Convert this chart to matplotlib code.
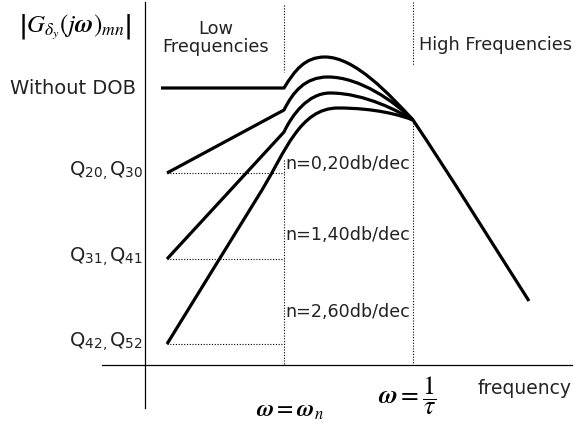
import matplotlib
matplotlib.use("Agg")
import matplotlib.pyplot as plt
from matplotlib.path import Path
from matplotlib.patches import PathPatch

plt.rcParams["mathtext.fontset"] = "stix"

# schematic curves, in picture units (x right, y down)
# each: straight low-frequency part, then bezier pieces (3 points each)
without_dob = [(161, 88), (284, 88)]
without_dob_bez = [(295, 70), (305, 57), (325, 57),
                   (355, 57), (390, 95), (413, 120),
                   (450, 175), (490, 240), (529, 301)]
q20_line = [(167, 173), (284, 110)]
q20_bez = [(293, 92), (305, 77), (328, 77),
           (360, 77), (395, 102), (413, 120)]
q31_line = [(167, 259), (284, 132)]
q31_bez = [(292, 115), (308, 93), (330, 93),
           (365, 93), (400, 112), (413, 120)]
q42_line = [(167, 344), (262, 190)]
q42_bez = [(285, 152), (300, 108), (338, 108),
           (375, 108), (400, 115), (413, 120)]

curves = [(without_dob, without_dob_bez), (q20_line, q20_bez),
          (q31_line, q31_bez), (q42_line, q42_bez)]

level_labels = [r"Q$_\mathregular{20,}$Q$_\mathregular{30}$",
                r"Q$_\mathregular{31,}$Q$_\mathregular{41}$",
                r"Q$_\mathregular{42,}$Q$_\mathregular{52}$"]
level_y = [173, 259, 344]
slope_labels = ["n=0,20db/dec", "n=1,40db/dec", "n=2,60db/dec"]
slope_y = [164, 235, 312]

w_n = 284
w_tau = 413

fig = plt.figure(figsize=(5.75, 4.32), dpi=100)
ax = fig.add_axes([0, 0, 1, 1])
ax.set_xlim(0, 575)
ax.set_ylim(432, 0)
ax.axis("off")

txt = dict(color="#222222", family="DejaVu Sans")

# axes
ax.plot([145, 145], [2, 408], color="black", lw=0.9)
ax.plot([102, 572], [365, 365], color="black", lw=0.9)

# dotted guides
dot = dict(color="black", lw=0.8, ls=(0, (1, 1.5)))
ax.plot([w_n, w_n], [5, 72], **dot)
ax.plot([w_n, w_n], [160, 365], **dot)
ax.plot([w_tau, w_tau], [2, 66], **dot)
ax.plot([w_tau, w_tau], [120, 365], **dot)
for y in level_y:
    ax.plot([167, w_n], [y, y], **dot)

# curves
for line, bez in curves:
    verts = list(line) + list(bez)
    codes = [Path.MOVETO, Path.LINETO] + [Path.CURVE4] * len(bez)
    ax.add_patch(PathPatch(Path(verts, codes), fill=False, lw=2.3,
                           edgecolor="black", capstyle="butt", joinstyle="round"))

# texts
ax.text(216, 38, "Low\nFrequencies", ha="center", va="center", fontsize=12.8,
        linespacing=1.0, **txt)
ax.text(419, 45, "High Frequencies", ha="left", va="center", fontsize=12.8, **txt)
ax.text(136, 88, "Without DOB", ha="right", va="center", fontsize=14, **txt)
for lab, y in zip(level_labels, level_y):
    ax.text(143, y - 2, lab, ha="right", va="center", fontsize=14, **txt)
for lab, y in zip(slope_labels, slope_y):
    ax.text(285, y, lab, ha="left", va="center", fontsize=12.6, **txt)
ax.text(525, 388, "frequency", ha="center", va="center", fontsize=13.5, **txt)

ax.text(75, 27, r"$\left|G_{\delta_y}(j\boldsymbol{\omega})_{mn}\right|$",
        ha="center", va="center", fontsize=18, color="black")
ax.text(290, 410, r"$\boldsymbol{\omega} = \boldsymbol{\omega}_n$",
        ha="center", va="center", fontsize=17, color="black")
ax.text(407, 396, r"$\boldsymbol{\omega} = \dfrac{1}{\tau}$",
        ha="center", va="center", fontsize=18.5, color="black")

fig.savefig("out.png", dpi=100)
